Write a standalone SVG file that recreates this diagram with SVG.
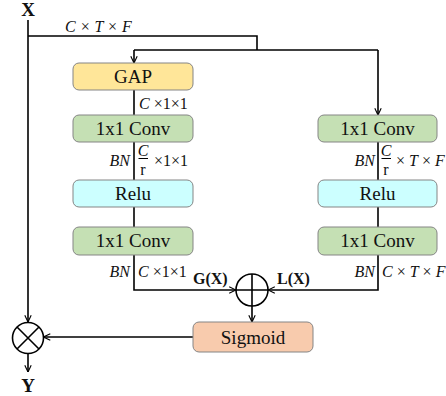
<svg xmlns="http://www.w3.org/2000/svg" width="446" height="396" viewBox="0 0 446 396">
  <defs>
    <marker id="arr" viewBox="0 0 10 10" refX="9.5" refY="5" markerWidth="8" markerHeight="8" markerUnits="userSpaceOnUse" orient="auto">
      <path d="M1,1 L9.5,5 L1,9" fill="none" stroke="#000" stroke-width="1.4"/>
    </marker>
    <style>
      .ln { fill: none; stroke: #000; stroke-width: 1.6; }
      .box { stroke: #858585; stroke-width: 1; }
      .gap { fill: #ffe699; }
      .conv { fill: #c5e0b4; }
      .relu { fill: #ccffff; }
      .sig { fill: #f8cbad; }
      text { font-family: 'Liberation Serif', 'DejaVu Serif', serif; fill: #111; }
      .bt { font-size: 19px; text-anchor: middle; }
      .lb { font-size: 16px; }
      .it { font-style: italic; }
      .bd { font-weight: bold; }
    </style>
  </defs>

  <!-- connectors -->
  <g id="connectors">
    <path class="ln" d="M28,20 V322" marker-end="url(#arr)"/>
    <path class="ln" d="M28,36 H257 V50"/>
    <path class="ln" d="M134,50 H378"/>
    <path class="ln" d="M134,50 V63" marker-end="url(#arr)"/>
    <path class="ln" d="M378,50 V115" marker-end="url(#arr)"/>
    <path class="ln" d="M134,90 V115"/>
    <path class="ln" d="M134,142 V180"/>
    <path class="ln" d="M134,207 V227"/>
    <path class="ln" d="M378,142 V180"/>
    <path class="ln" d="M378,207 V227"/>
    <path class="ln" d="M134,255 V290 H236" marker-end="url(#arr)"/>
    <path class="ln" d="M378,255 V290 H268" marker-end="url(#arr)"/>
    <path class="ln" d="M252,306 V322" marker-end="url(#arr)"/>
    <path class="ln" d="M193,337 H43.5" marker-end="url(#arr)"/>
    <path class="ln" d="M28,353 V372" marker-end="url(#arr)"/>
  </g>

  <!-- input / output labels -->
  <text class="bd" x="28" y="16" font-size="19" text-anchor="middle">X</text>
  <text class="bd" x="28" y="392" font-size="19" text-anchor="middle">Y</text>
  <text class="lb it" x="65" y="32" xml:space="preserve">C × T × F</text>

  <!-- global branch -->
  <g id="gap">
    <rect class="box gap" x="73" y="63" width="120" height="27" rx="6"/>
    <text class="bt" x="133" y="83">GAP</text>
  </g>
  <text class="lb" x="139" y="109" xml:space="preserve"><tspan class="it">C</tspan> ×1×1</text>

  <g id="conv-g1">
    <rect class="box conv" x="73" y="115" width="120" height="27" rx="6"/>
    <text class="bt" x="133" y="135">1x1 Conv</text>
  </g>
  <g id="label-g1">
    <text class="lb it" x="130" y="166" text-anchor="end">BN</text>
    <text class="lb it" x="143" y="156" text-anchor="middle">C</text>
    <line x1="138.5" y1="158.5" x2="148" y2="158.5" stroke="#000" stroke-width="1"/>
    <text class="lb" x="143" y="175" text-anchor="middle">r</text>
    <text class="lb" x="154" y="166">×1×1</text>
  </g>

  <g id="relu-g">
    <rect class="box relu" x="73" y="180" width="120" height="27" rx="6"/>
    <text class="bt" x="133" y="200">Relu</text>
  </g>

  <g id="conv-g2">
    <rect class="box conv" x="73" y="227" width="120" height="28" rx="6"/>
    <text class="bt" x="133" y="247">1x1 Conv</text>
  </g>
  <text class="lb it" x="130" y="277" text-anchor="end">BN</text>
  <text class="lb" x="138" y="277" xml:space="preserve"><tspan class="it">C</tspan> ×1×1</text>

  <!-- local branch -->
  <g id="conv-l1">
    <rect class="box conv" x="318" y="115" width="119" height="27" rx="6"/>
    <text class="bt" x="377.5" y="135">1x1 Conv</text>
  </g>
  <g id="label-l1">
    <text class="lb it" x="375" y="166" text-anchor="end">BN</text>
    <text class="lb it" x="386" y="156" text-anchor="middle">C</text>
    <line x1="381.5" y1="158.5" x2="391" y2="158.5" stroke="#000" stroke-width="1"/>
    <text class="lb" x="386" y="175" text-anchor="middle">r</text>
    <text class="lb" x="396" y="166" xml:space="preserve">× <tspan class="it">T</tspan> × <tspan class="it">F</tspan></text>
  </g>

  <g id="relu-l">
    <rect class="box relu" x="318" y="180" width="119" height="27" rx="6"/>
    <text class="bt" x="377.5" y="200">Relu</text>
  </g>

  <g id="conv-l2">
    <rect class="box conv" x="318" y="227" width="119" height="28" rx="6"/>
    <text class="bt" x="377.5" y="247">1x1 Conv</text>
  </g>
  <text class="lb it" x="375" y="277" text-anchor="end">BN</text>
  <text class="lb" x="382" y="277" xml:space="preserve"><tspan class="it">C</tspan> × <tspan class="it">T</tspan> × <tspan class="it">F</tspan></text>

  <!-- fusion -->
  <text class="bd" x="193" y="284" font-size="16">G(X)</text>
  <text class="bd" x="277" y="284" font-size="16">L(X)</text>

  <g id="add">
    <circle cx="252" cy="290" r="16" fill="#fff" stroke="#000" stroke-width="1.6"/>
    <path class="ln" d="M236,290 H268 M252,274 V306"/>
  </g>

  <g id="sigmoid">
    <rect class="box sig" x="193" y="322" width="120" height="30" rx="6"/>
    <text class="bt" x="253" y="344">Sigmoid</text>
  </g>

  <g id="mul">
    <circle cx="28" cy="338" r="15.5" fill="#fff" stroke="#000" stroke-width="1.6"/>
    <path class="ln" d="M17,327 L39,349 M39,327 L17,349"/>
  </g>
</svg>
